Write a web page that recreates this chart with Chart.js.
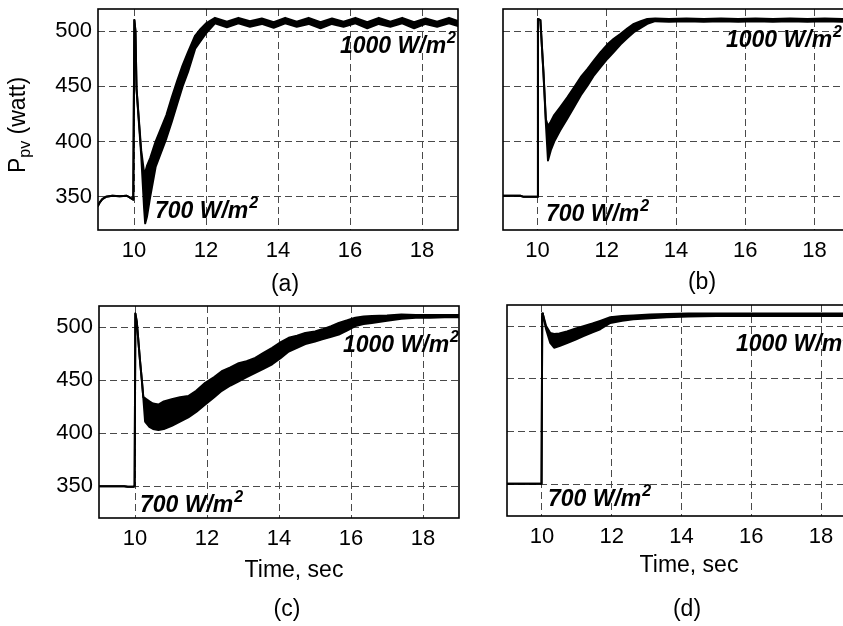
<!DOCTYPE html>
<html>
<head>
<meta charset="utf-8">
<script src="https://cdn.jsdelivr.net/npm/chart.js@4.4.1/dist/chart.umd.min.js"></script>
<style>
  html, body { margin: 0; padding: 0; background: #fff; overflow: hidden; }
  #fig { position: relative; width: 843px; height: 626px; overflow: hidden; }
  canvas { position: absolute; }
</style>
</head>
<body>
<div id="fig">
  <canvas id="pa" width="460" height="300" style="left:0;top:0"></canvas>
  <canvas id="pb" width="400" height="300" style="left:460px;top:0"></canvas>
  <canvas id="pc" width="460" height="326" style="left:0;top:300px"></canvas>
  <canvas id="pd" width="400" height="326" style="left:460px;top:300px"></canvas>
</div>
<script>
// axis ticks
const xTicks = [10, 12, 14, 16, 18];
const yTicks = [350, 400, 450, 500];
const yTitle = ['P', 'pv', ' (watt)'];
const xTitle = 'Time, sec';
const lowLabel = ['700 W/m', '2'];
const highLabel = ['1000 W/m', '2'];

// (a) - time, upper and lower edge of the ripple band
const timeA = [9.0, 9.05, 9.12, 9.22, 9.4, 9.6, 9.8, 9.9, 9.98, 10.01, 10.04, 10.07, 10.2, 10.28, 10.31, 10.36, 10.45, 10.6, 10.75, 10.9,
  11.05, 11.2, 11.35, 11.5, 11.7, 11.85, 12.0, 12.25, 12.58, 12.9, 13.22, 13.55, 13.88, 14.2, 14.52, 14.85, 15.18,
  15.5, 15.82, 16.15, 16.48, 16.8, 17.12, 17.45, 17.78, 18.1, 18.42, 18.75, 19.0];
const upperA = [342, 345, 348, 350, 351, 350.5, 351, 349, 347.5, 510, 500, 448, 392, 372, 372, 378, 385, 400, 412, 424,
  440, 455, 469, 481, 496, 502, 507, 512, 508.5, 512, 509, 511.5, 508, 512, 508.5, 512, 508,
  511.5, 508.5, 512, 508, 512, 508.5, 512, 508, 511.5, 508.5, 512, 509];
const lowerA = [342, 345, 348, 350, 351, 350.5, 351, 349, 347.5, 510, 500, 448, 388, 340, 326, 332, 350, 377, 390, 403,
  418, 434, 450, 463, 484, 491, 498, 507, 503.5, 507, 504, 506.5, 503, 507, 504, 506.5, 502.5,
  506.5, 504, 507, 502.5, 506.5, 504, 507, 502.5, 506.5, 504, 507, 504.5];

// (b)
const timeB = [9.0, 9.5, 9.6, 9.75, 9.99, 10.01, 10.08, 10.17, 10.24, 10.3, 10.38, 10.48, 10.65, 10.86, 11.05,
  11.25, 11.45, 11.63, 11.82, 12.02, 12.2, 12.4, 12.6, 12.78, 12.98, 13.17, 13.4, 13.8, 14.3, 14.8,
  15.3, 15.8, 16.3, 16.8, 17.3, 17.8, 18.3, 18.8, 19.0];
const upperB = [351, 351, 350, 350, 350, 511, 510, 462, 420, 414, 418, 424, 431, 440, 449,
  458.5, 466, 473.5, 481, 488, 493, 497.5, 502.5, 506.5, 509, 511, 511.5, 511, 511.5, 511,
  511.5, 511, 511.5, 511, 511.5, 511, 511.5, 511, 511];
const lowerB = [351, 351, 350, 350, 350, 511, 510, 462, 416, 383, 392, 400, 410, 421, 431,
  442, 451, 460, 467.5, 475, 481, 488, 494, 499, 503, 506.5, 509, 508.5, 509, 508.5,
  509, 508.5, 509, 508.5, 509, 508.5, 509, 508.5, 509];

// (c)
const timeC = [9.0, 9.7, 9.8, 9.95, 9.99, 10.01, 10.05, 10.14, 10.19, 10.23, 10.28, 10.4, 10.5, 10.65, 10.8,
  11.02, 11.25, 11.48, 11.7, 11.95, 12.2, 12.41, 12.65, 12.88, 13.1, 13.34, 13.58, 13.81, 14.05, 14.27,
  14.5, 14.73, 15.0, 15.2, 15.45, 15.66, 15.9, 16.12, 16.35, 16.58, 17.0, 17.4, 17.8, 18.2, 18.6, 19.0];
const upperC = [350, 350, 349.5, 349.5, 350, 513, 505, 468, 450, 434, 433, 430, 428, 427, 430,
  432, 434, 435, 440, 447.5, 453, 458.5, 462, 466, 468, 471, 476, 480.5, 486, 490,
  492, 494.5, 496, 498, 501, 504, 506.5, 509, 510, 510.5, 511, 512, 511.5, 511.5, 511.5, 511.5];
const lowerC = [350, 350, 349.5, 349.5, 350, 513, 505, 468, 450, 434, 411, 406, 404, 403, 404,
  407, 411, 415, 420, 427, 434, 440, 445, 449, 453, 457, 461, 465, 471, 477,
  480.5, 484, 486.5, 488.5, 491, 493, 497, 501, 503, 504, 506, 508, 509, 509, 509.5, 509.5];

// (d)
const timeD = [9.0, 9.5, 9.99, 10.01, 10.03, 10.12, 10.24, 10.35, 10.5, 10.72, 10.95, 11.19, 11.45, 11.67, 11.96,
  12.3, 12.62, 13.1, 13.58, 14.2, 15.0, 16.0, 17.0, 18.0, 19.0];
const upperD = [350.5, 350.5, 350.5, 512, 511, 500, 493.5, 492.5, 493, 495, 497.5, 500, 502.5, 505, 508.5,
  509.5, 510, 511, 511.5, 512, 512, 512, 512, 512, 512];
const lowerD = [350.5, 350.5, 350.5, 512, 511, 497, 484, 479.5, 481, 484, 487, 490.5, 494, 497, 503,
  505, 506.5, 507.5, 508.5, 509, 509.5, 509.5, 509.5, 509.5, 509.5];

const FONT = '"Liberation Sans", Arial, Helvetica, sans-serif';
Chart.defaults.font.family = FONT;
Chart.defaults.font.size = 22;
Chart.defaults.color = '#000';

function textWithSup(ctx, x, y, parts, size) {
  ctx.font = `italic bold ${size}px ${FONT}`;
  ctx.fillText(parts[0], x, y);
  const w = ctx.measureText(parts[0]).width;
  ctx.font = `italic bold ${Math.round(size * 0.7)}px ${FONT}`;
  ctx.fillText(parts[1], x + w + 1, y - size * 0.45);
}

function makePanel(id, t, up, lo, p) {
  const deco = {
    id: 'deco' + id,
    afterDraw(chart) {
      const ctx = chart.ctx;
      const a = chart.chartArea;
      ctx.save();
      ctx.strokeStyle = '#000';
      ctx.lineWidth = 1.6;
      ctx.strokeRect(a.left, a.top, a.right - a.left, a.bottom - a.top);
      ctx.fillStyle = '#000';
      ctx.textBaseline = 'alphabetic';
      ctx.textAlign = 'left';
      textWithSup(ctx, p.hi[0], p.hi[1], highLabel, 23);
      textWithSup(ctx, p.lo[0], p.lo[1], lowLabel, 23);

      ctx.textAlign = 'center';
      ctx.textBaseline = 'middle';
      ctx.font = `23px ${FONT}`;
      ctx.fillText(p.caption, p.capPos[0], p.capPos[1]);
      if (p.timePos) ctx.fillText(xTitle, p.timePos[0], p.timePos[1]);

      if (p.yTitlePos) {
        ctx.translate(p.yTitlePos[0], p.yTitlePos[1]);
        ctx.rotate(-Math.PI / 2);
        ctx.textAlign = 'left';
        ctx.textBaseline = 'alphabetic';
        ctx.font = `23px ${FONT}`;
        const wP = ctx.measureText(yTitle[0]).width;
        const wR = ctx.measureText(yTitle[2]).width;
        ctx.font = `16px ${FONT}`;
        const wS = ctx.measureText(yTitle[1]).width;
        const x0 = -(wP + wS + wR) / 2;
        ctx.font = `23px ${FONT}`;
        ctx.fillText(yTitle[0], x0, 0);
        ctx.font = `16px ${FONT}`;
        ctx.fillText(yTitle[1], x0 + wP, 5);
        ctx.font = `23px ${FONT}`;
        ctx.fillText(yTitle[2], x0 + wP + wS, 0);
      }
      ctx.restore();
    }
  };

  const lineStyle = {
    borderColor: '#000', borderWidth: 2, pointRadius: 0, tension: 0,
    borderJoinStyle: 'round', borderCapStyle: 'round'
  };

  return new Chart(document.getElementById(id), {
    type: 'line',
    data: {
      datasets: [
        Object.assign({ data: t.map((x, i) => ({ x, y: up[i] })), fill: false }, lineStyle),
        Object.assign({ data: t.map((x, i) => ({ x, y: lo[i] })), fill: '-1', backgroundColor: '#000' }, lineStyle)
      ]
    },
    options: {
      responsive: false,
      animation: false,
      layout: { padding: { top: p.top, right: p.right, left: 0, bottom: 0 } },
      plugins: { legend: { display: false }, tooltip: { enabled: false } },
      scales: {
        x: {
          type: 'linear', min: 9, max: 19,
          afterBuildTicks: s => { s.ticks = xTicks.map(v => ({ value: v })); },
          afterFit: s => { s.height = p.xh; s.paddingLeft = 0; s.paddingRight = 0; },
          grid: { color: '#4a4a4a', lineWidth: 1, drawTicks: false },
          border: { display: false, dash: [7, 4] },
          ticks: { padding: 8, maxRotation: 0, autoSkip: false }
        },
        y: {
          min: 320, max: 520,
          afterBuildTicks: s => { s.ticks = yTicks.map(v => ({ value: v })); },
          afterFit: s => { s.width = p.yw; s.paddingTop = 0; s.paddingBottom = 0; },
          grid: { color: '#4a4a4a', lineWidth: 1, drawTicks: false },
          border: { display: false, dash: [7, 4] },
          ticks: { display: p.showY, padding: 6 }
        }
      }
    },
    plugins: [deco]
  });
}

makePanel('pa', timeA, upperA, lowerA, {
  top: 9, right: 2, yw: 98, xh: 70, showY: true,
  hi: [340, 53], lo: [155, 218], caption: '(a)', capPos: [285, 285], yTitlePos: [25, 125]
});
makePanel('pb', timeB, upperB, lowerB, {
  top: 9, right: 11, yw: 43, xh: 70, showY: false,
  hi: [266, 47], lo: [86, 221], caption: '(b)', capPos: [242, 283]
});
makePanel('pc', timeC, upperC, lowerC, {
  top: 6, right: 1, yw: 99, xh: 108, showY: true,
  hi: [343, 52], lo: [140, 212], caption: '(c)', capPos: [287, 310], timePos: [294, 271], yTitlePos: [29, 411]
});
makePanel('pd', timeD, upperD, lowerD, {
  top: 5, right: 4, yw: 47, xh: 110, showY: false,
  hi: [276, 51], lo: [88, 206], caption: '(d)', capPos: [227, 310], timePos: [229, 266]
});
</script>
</body>
</html>
